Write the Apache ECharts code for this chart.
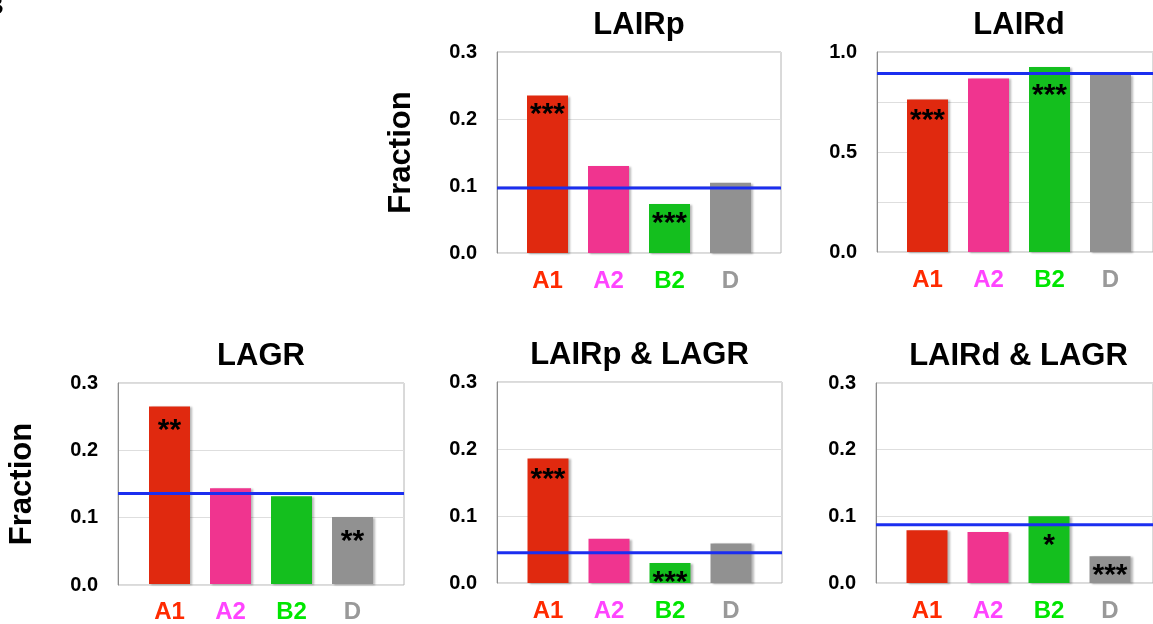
<!DOCTYPE html>
<html>
<head>
<meta charset="utf-8">
<script src="https://cdn.jsdelivr.net/npm/echarts@6/dist/echarts.min.js"></script>
<style>html,body{margin:0;padding:0;background:#fff}#chart{width:1153px;height:624px}</style>
</head>
<body>
<div id="chart"></div>
<script>
// ---- data ----
const categories = ['A1', 'A2', 'B2', 'D'];
const panelTitles = ['LAIRp', 'LAIRd', 'LAGR', 'LAIRp & LAGR', 'LAIRd & LAGR'];
const lairp = [0.235, 0.130, 0.073, 0.105];
const laird = [0.763, 0.868, 0.925, 0.885];
const lagr = [0.265, 0.143, 0.131, 0.100];
const lairpLagr = [0.186, 0.066, 0.030, 0.059];
const lairdLagr = [0.079, 0.0765, 0.100, 0.040];
const baselines = [0.097, 0.893, 0.136, 0.045, 0.0875];
const starsLairp = ['***', '', '***', ''];
const starsLaird = ['***', '', '***', ''];
const starsLagr = ['**', '', '', '**'];
const starsLairpLagr = ['***', '', '***', ''];
const starsLairdLagr = ['', '', '*', '***'];
const yMax = [0.3, 1.0, 0.3, 0.3, 0.3];
const yStep = [0.1, 0.25, 0.1, 0.1, 0.1];

const seriesValues = [lairp, laird, lagr, lairpLagr, lairdLagr];
const seriesStars = [starsLairp, starsLaird, starsLagr, starsLairpLagr, starsLairdLagr];

// ---- style / layout ----
const FONT = '"Liberation Sans", Arial, Helvetica, sans-serif';
const barColors = ['#e0290f', '#f0348f', '#14bf1e', '#919191'];
const labelColors = ['#ff2a00', '#ff44ff', '#00e600', '#999999'];
const layout = [
  {left: 497, top: 52, width: 284, height: 201, yName: true},
  {left: 877, top: 52, width: 284, height: 200, yName: false},
  {left: 118, top: 383, width: 286, height: 202, yName: true},
  {left: 497, top: 382, width: 285, height: 201, yName: false},
  {left: 876, top: 383, width: 285, height: 200, yName: false}
];
// how far each star label sits below its bar top (style only)
const starDrop = [
  [4, 0, 5, 0],
  [6, 0, 14, 0],
  [9, 0, 0, 10],
  [6, 0, 5, 0],
  [0, 0, 14, 4]
];
const bandWidth = 61;

const grid = [], xAxis = [], yAxis = [], series = [], graphic = [];

layout.forEach((p, i) => {
  const inner = bandWidth * categories.length;
  const pad = (p.width - inner) / 2;
  grid.push({left: p.left, top: p.top, width: p.width, height: p.height,
    show: true, borderColor: '#b4b4b4', borderWidth: 1, backgroundColor: 'transparent'});
  grid.push({left: p.left + pad, top: p.top, width: inner, height: p.height});

  xAxis.push({gridIndex: 2 * i, type: 'value', min: 0, max: 1, show: false});
  xAxis.push({gridIndex: 2 * i + 1, type: 'category', data: categories,
    axisLine: {show: false}, axisTick: {show: false},
    axisLabel: {fontFamily: FONT, fontSize: 24, fontWeight: 'bold', margin: 16,
      color: (v, idx) => labelColors[categories.indexOf(v)]}});

  yAxis.push({gridIndex: 2 * i, type: 'value', min: 0, max: yMax[i], interval: yStep[i],
    axisLine: {show: true, lineStyle: {color: '#8c8c8c', width: 1}},
    axisTick: {show: false},
    splitLine: {show: true, lineStyle: {color: '#dedede', width: 1}},
    axisLabel: {fontFamily: FONT, fontSize: 20, fontWeight: 'bold', color: '#000', margin: 20,
      formatter: v => {
        const r = v / (yStep[i] === 0.25 ? 0.5 : 0.1);
        return Math.abs(r - Math.round(r)) < 1e-6 ? v.toFixed(1) : '';
      }},
    name: p.yName ? 'Fraction' : '', nameLocation: 'middle', nameGap: 80,
    nameTextStyle: {fontFamily: FONT, fontSize: 31, fontWeight: 'bold', color: '#000'}});
  yAxis.push({gridIndex: 2 * i + 1, type: 'value', min: 0, max: yMax[i], interval: yStep[i], show: false});

  const vals = seriesValues[i], st = seriesStars[i];
  series.push({
    type: 'bar', xAxisIndex: 2 * i + 1, yAxisIndex: 2 * i + 1, barWidth: 41,
    data: vals.map((v, j) => ({value: v, itemStyle: {color: barColors[j]},
      label: {show: st[j] !== '', formatter: st[j], distance: starDrop[i][j]}})),
    itemStyle: {shadowColor: 'rgba(0,0,0,0.28)', shadowOffsetX: 2, shadowOffsetY: 1, shadowBlur: 2},
    label: {position: 'insideTop', fontFamily: FONT, fontSize: 30, fontWeight: 'bold', color: '#000'},
    silent: true, animation: false
  });
  series.push({
    type: 'line', xAxisIndex: 2 * i, yAxisIndex: 2 * i, z: 5,
    data: [[0, baselines[i]], [1, baselines[i]]],
    symbol: 'none', lineStyle: {color: '#1b2ef0', width: 3}, silent: true, animation: false
  });

  graphic.push({type: 'text', x: p.left + p.width / 2, y: p.top - 42,
    style: {text: panelTitles[i], align: 'center', verticalAlign: 'top',
      font: 'bold 31px ' + FONT, fill: '#000'}});
});

graphic.push({type: 'text', x: -15, y: -6,
  style: {text: 'B', align: 'left', verticalAlign: 'top', font: 'bold 26px ' + FONT, fill: '#000'}});

const chart = echarts.init(document.getElementById('chart'), null, {renderer: 'canvas'});
chart.setOption({animation: false, backgroundColor: '#fff', grid, xAxis, yAxis, series, graphic});
</script>
</body>
</html>
